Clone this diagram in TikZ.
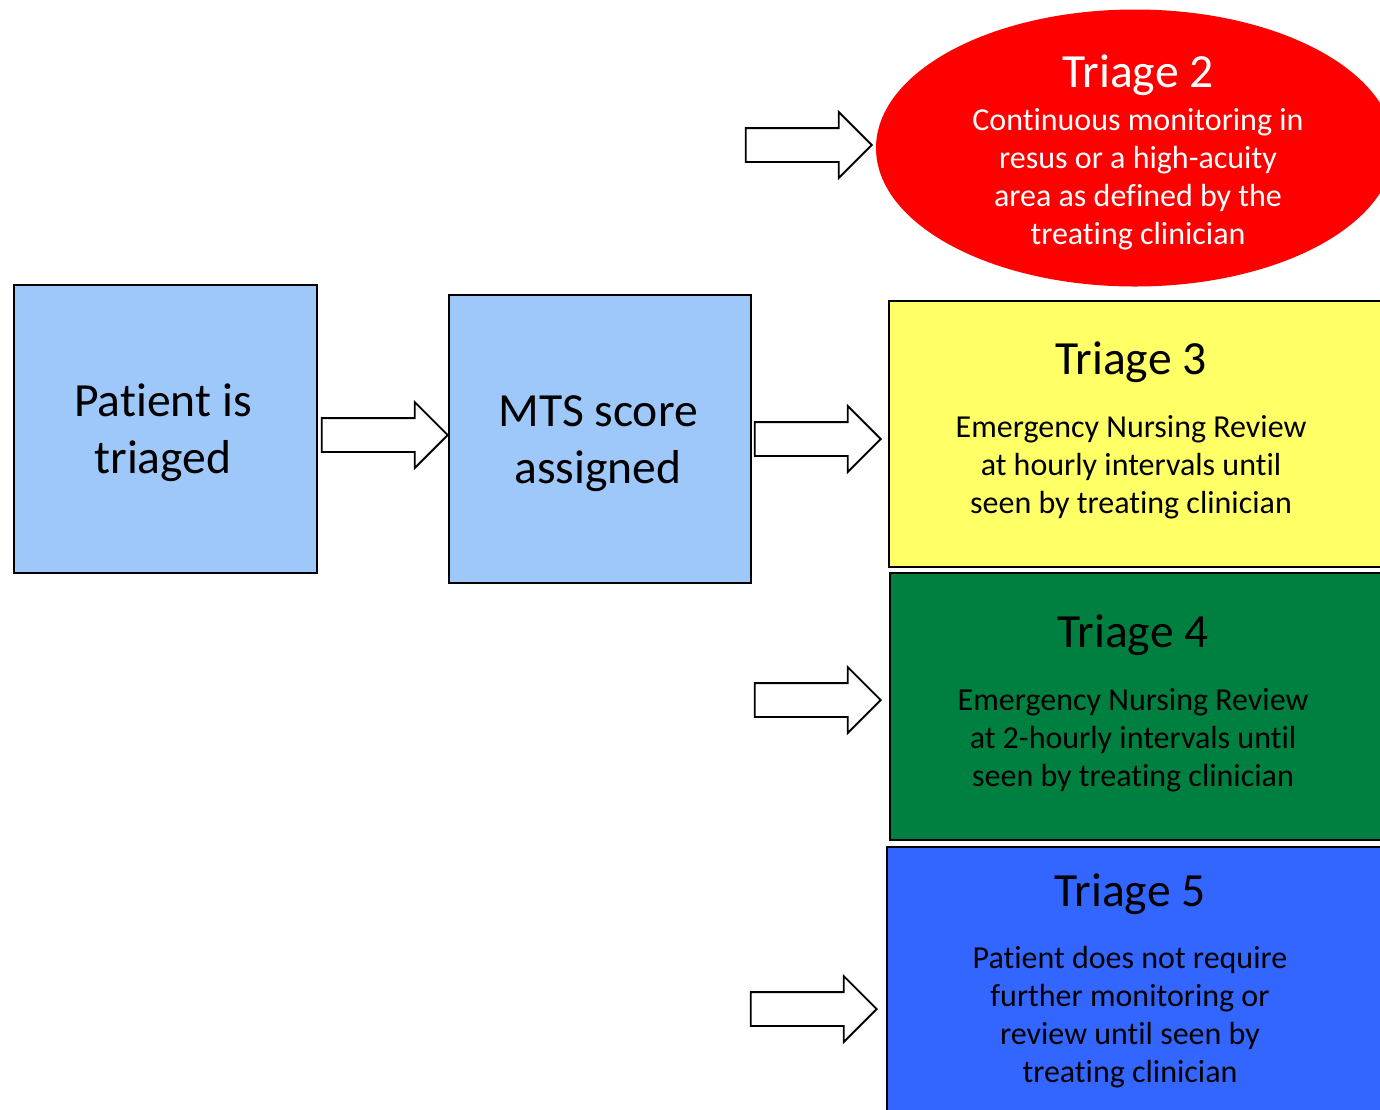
\documentclass[tikz,border=0pt]{standalone}
\usepackage{fontspec}
\setmainfont{Carlito}[Ligatures=NoCommon]
\usetikzlibrary{shapes.geometric,shapes.arrows}
\definecolor{boxblue}{RGB}{159,200,250}
\definecolor{triyellow}{RGB}{255,255,102}
\definecolor{trigreen}{RGB}{0,128,64}
\definecolor{triblue}{RGB}{51,102,255}
\newcommand\hdsize{\fontsize{23.8}{28.5}\selectfont}
\newcommand\bdsize{\fontsize{16}{19}\selectfont}
\begin{document}
\begin{tikzpicture}[x=0.5pt,y=-0.5pt,
		stepbox/.style={draw,line width=1pt,inner sep=0pt},
		blockarrow/.style={single arrow,draw,fill=white,line width=0.9pt,anchor=tip,
			inner xsep=0pt,inner ysep=8pt,minimum height=63pt,
			single arrow head extend=8pt,single arrow tip angle=90},
		hd/.style={font=\hdsize,align=center,inner sep=0pt},
		bd/.style={font=\bdsize,align=center,inner sep=0pt}]
		\useasboundingbox (0,0) rectangle (1380,1109);
		\clip (0,0) rectangle (1380,1109);
		
		\node[stepbox,fill=boxblue,minimum width=151.5pt,minimum height=144pt] (patient) at (165.5,429) {};
		\node[hd] (patienttext) at (163,433) {Patient is\\triaged};
		\node[stepbox,fill=boxblue,minimum width=151pt,minimum height=144pt] (mts) at (600,439) {};
		\node[hd] (mtstext) at (598,444) {MTS score\\assigned};
		
		\node[ellipse,fill=red,inner sep=0pt,minimum width=259pt,minimum height=138.5pt] (tri2) at (1135,148) {};
		\node[stepbox,fill=triyellow,minimum width=255.5pt,minimum height=133pt] (tri3) at (1144.5,434) {};
		\node[stepbox,fill=trigreen,minimum width=255pt,minimum height=133.5pt] (tri4) at (1145,706.5) {};
		\node[stepbox,fill=triblue,minimum width=256.5pt,minimum height=141.5pt] (tri5) at (1143.5,988.5) {};
		
		% block arrows, placed by their tips
		\node[blockarrow] (a1) at (449,435) {};
		\node[blockarrow] (a2) at (873,145) {};
		\node[blockarrow] (a3) at (882,439) {};
		\node[blockarrow] (a4) at (882,700) {};
		\node[blockarrow] (a5) at (878,1009) {};
		
		\node[hd,white] (t2head) at (1138,75) {Triage 2};
		\node[bd,white] (t2text) at (1138,179) {Continuous monitoring in\\resus or a high-acuity\\area as defined by the\\treating clinician};
		
		\node[hd] (t3head) at (1131,362) {Triage 3};
		\node[bd] (t3text) at (1131,467) {Emergency Nursing Review\\at hourly intervals until\\seen by treating clinician};
		
		\node[hd] (t4head) at (1133,635) {Triage 4};
		\node[bd] (t4text) at (1133,740) {Emergency Nursing Review\\at 2-hourly intervals until\\seen by treating clinician};
		
		\node[hd] (t5head) at (1130,894) {Triage 5};
		\node[bd] (t5text) at (1130,1017) {Patient does not require\\further monitoring or\\review until seen by\\treating clinician};
	\end{tikzpicture}
\end{document}
